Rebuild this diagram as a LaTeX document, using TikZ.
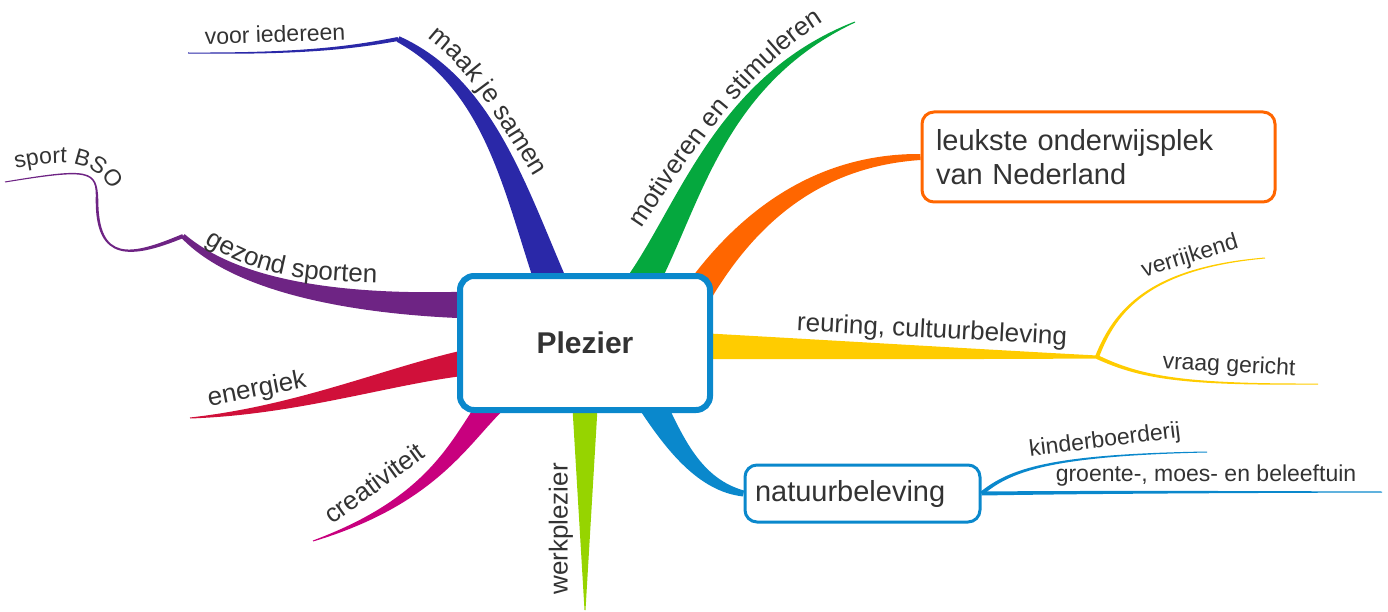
\documentclass[tikz,border=0pt]{standalone}
\usepackage{fontspec}
\setmainfont{Liberation Sans}
\usetikzlibrary{calc, backgrounds, decorations.text}

\newcommand{\branchfont}{\fontsize{26}{30}\selectfont}
\newcommand{\subfont}{\fontsize{23}{27}\selectfont}

\begin{document}
\begin{tikzpicture}[x=1pt, y=-1pt,
	hub/.style={draw=hubblue, line width=6pt, fill=white, rounded corners=14pt, minimum width=250pt, minimum height=134pt, text=txt, font=\bfseries\fontsize{30}{36}\selectfont},
	leaf/.style={draw=#1, line width=3pt, fill=white, rounded corners=12pt, align=left, text=txt, font=\fontsize{29}{34}\selectfont},
	lbl/.style={text=txt, inner sep=0pt, font=\branchfont},
	sublbl/.style={text=txt, inner sep=0pt, font=\subfont}
]
	\definecolor{txt}{RGB}{51,51,51}
	\definecolor{hubblue}{RGB}{10,136,204}
	\definecolor{cMaak}{RGB}{42,40,168}
	\definecolor{cGreen}{RGB}{5,168,62}
	\definecolor{cOrange}{RGB}{255,102,0}
	\definecolor{cYellow}{RGB}{255,204,0}
	\definecolor{cLime}{RGB}{150,212,0}
	\definecolor{cMagenta}{RGB}{200,0,126}
	\definecolor{cRed}{RGB}{208,16,58}
	\definecolor{cPurple}{RGB}{110,36,132}

	\useasboundingbox (0,0) rectangle (1388,612);

	% \branch#color#root#control1#control2#tip#rootwidth#tipwidth
	\def\branch#1#2#3#4#5#6#7{
		\pgfmathsetmacro\wa{(2*#6+#7)/3}
		\pgfmathsetmacro\wb{(#6+2*#7)/3}
		\fill[#1] ($(#2)!#6pt!90:(#3)$) .. controls ($(#3)!\wa pt!90:(#4)$) and ($(#4)!\wb pt!90:(#5)$) .. ($(#5)!#7pt!-90:(#4)$)
			-- ($(#5)!#7pt!90:(#4)$) .. controls ($(#4)!\wb pt!-90:(#5)$) and ($(#3)!\wa pt!-90:(#4)$) .. ($(#2)!#6pt!-90:(#3)$) -- cycle;
	}

	% boxes
	\node[hub] (plz) at (585,343) {Plezier};
	\node[leaf=cOrange, text width=325pt, inner xsep=14pt, minimum height=90pt] (lkst) at (1098.5,157) {leukste onderwijsplek\\van Nederland};
	\node[leaf=hubblue, text width=215pt, inner xsep=10pt, minimum height=57pt] (nat) at (862.5,493.5) {natuurbeleving};

	% roots and ends
	\coordinate (rMaak) at ($(plz.center)+(-32,-55)$);
	\coordinate (rMotiv) at ($(plz.center)+(56,-58)$);
	\coordinate (rLeuk) at ($(plz.center)+(115,-53)$);
	\coordinate (rReur) at ($(plz.center)+(115,3)$);
	\coordinate (rNat) at ($(plz.center)+(65,57)$);
	\coordinate (rWerk) at ($(plz.center)+(0,57)$);
	\coordinate (rCrea) at ($(plz.center)+(-90,57)$);
	\coordinate (rEnerg) at ($(plz.center)+(-115,19)$);
	\coordinate (rGez) at ($(plz.center)+(-115,-38)$);
	\coordinate (mCorner) at (398,39);
	\coordinate (tVoor) at (188,53);
	\coordinate (tMotiv) at (855,22);
	\coordinate (jReur) at (1097,357);
	\coordinate (tVerr) at (1265,258);
	\coordinate (tVraag) at (1318,384);
	\coordinate (tKind) at (1207,452);
	\coordinate (tGroen) at (1382,492);
	\coordinate (tWerk) at (585,610);
	\coordinate (tCrea) at (313,541);
	\coordinate (tEnerg) at (190,418);
	\coordinate (gCorner) at (183,236);
	\coordinate (sMid) at (97,200);
	\coordinate (tSport) at (5,182);

	% branches
	\begin{scope}[on background layer]
		\branch{cMaak}{rMaak}{515,190}{490,85}{mCorner}{16}{3}
		\branch{cMaak}{mCorner}{350,48}{300,54}{tVoor}{2}{0.5}
		\branch{cGreen}{rMotiv}{690,205}{720,80}{tMotiv}{16}{0.5}
		\branch{cOrange}{rLeuk}{750,215}{820,160}{lkst.west}{14}{3}
		\branch{cYellow}{rReur}{840,350}{970,354}{jReur}{13}{1.5}
		\branch{cYellow}{jReur}{1115,310}{1150,268}{tVerr}{2}{0.5}
		\branch{cYellow}{jReur}{1140,377}{1180,385}{tVraag}{2}{0.5}
		\branch{hubblue}{rNat}{675,445}{700,485}{nat.west}{14}{3}
		\branch{hubblue}{nat.east}{1010,470}{1050,455}{tKind}{2}{0.5}
		\branch{hubblue}{nat.east}{1100,492}{1250,492}{tGroen}{2}{0.5}
		\branch{cLime}{rWerk}{585,470}{585,540}{tWerk}{13}{0.5}
		\branch{cMagenta}{rCrea}{460,440}{435,500}{tCrea}{13}{0.5}
		\branch{cRed}{rEnerg}{390,375}{300,410}{tEnerg}{13}{0.5}
		\branch{cPurple}{rGez}{360,305}{240,290}{gCorner}{13.5}{2.5}
		\branch{cPurple}{gCorner}{130,258}{97,262}{sMid}{2}{1.3}
		\branch{cPurple}{sMid}{97,170}{90,168}{tSport}{1.3}{0.5}
	\end{scope}

	% labels
	\path[decorate, decoration={text along path, text align=center, text color=txt, text={|\branchfont|maak je samen}}]
		(425,36) .. controls (464,64) and (494,111) .. (536,180);
	\node[sublbl, rotate=2] (lVoor) at (275,34) {voor iedereen};
	\path[decorate, decoration={text along path, text align=center, text color=txt, text={|\branchfont|motiveren en stimuleren}}]
		(636,236) .. controls (673,182) and (742,69) .. (832,17);
	\node[lbl, rotate=-3] (lReur) at (932,331) {reuring, cultuurbeleving};
	\node[sublbl, rotate=17] (lVerr) at (1190,257) {verrijkend};
	\node[sublbl, rotate=-3] (lVraag) at (1229,366) {vraag gericht};
	\node[sublbl, rotate=7] (lKind) at (1105,441) {kinderboerderij};
	\node[sublbl] (lGroen) at (1206,476) {groente-, moes- en beleeftuin};
	\node[lbl, rotate=90] (lWerk) at (561,529) {werkplezier};
	\node[lbl, rotate=36] (lCrea) at (374,483) {creativiteit};
	\node[lbl, rotate=11] (lEnerg) at (257,390) {energiek};
	\path[decorate, decoration={text along path, text color=txt, text={|\branchfont|gezond sporten}}]
		(205,243) .. controls (250,270) and (280,282) .. (395,283);
	\path[decorate, decoration={text along path, text color=txt, text={|\subfont|sport BSO}}]
		(16,169) .. controls (55,160) and (100,155) .. (115,200);
\end{tikzpicture}
\end{document}
